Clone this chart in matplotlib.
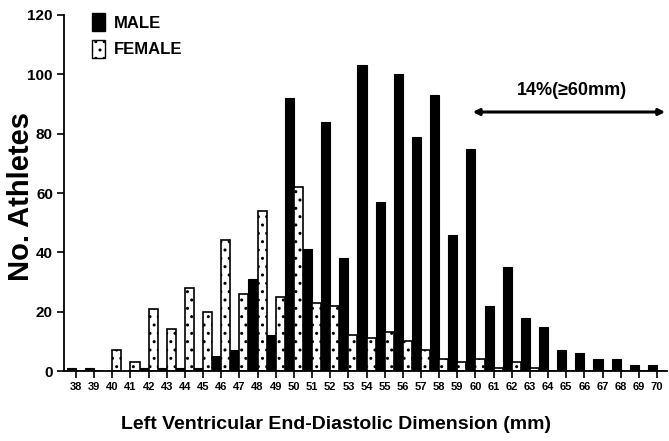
import matplotlib
matplotlib.use("Agg")
import matplotlib.pyplot as plt
from matplotlib.patches import Patch

plt.rcParams['font.family'] = ['Liberation Sans', 'DejaVu Sans']
plt.rcParams['font.weight'] = 'bold'
plt.rcParams['hatch.linewidth'] = 1.0

# LV end-diastolic dimension (mm) and number of athletes per bin
dimension_mm = list(range(38, 71))
male_counts = [1, 1, 0, 0, 1, 1, 1, 1, 5, 7, 31, 12, 92, 41, 84, 38, 103,
               57, 100, 79, 93, 46, 75, 22, 35, 18, 15, 7, 6, 4, 4, 2, 2]
female_counts = [0, 0, 7, 3, 21, 14, 28, 20, 44, 26, 54, 25, 62, 23, 22, 12,
                 11, 13, 10, 7, 4, 3, 4, 1, 3, 1, 0, 0, 0, 0, 0, 0, 0]
y_ticks = [0, 20, 40, 60, 80, 100, 120]
series_labels = ['MALE', 'FEMALE']
range_note = '14%(\u226560mm)'
range_start, range_end = 60, 70

fig = plt.figure(figsize=(6.69, 4.41), dpi=100)
ax = fig.add_axes([0.0957, 0.1587, 0.9013, 0.8073])

w = 0.5
ax.bar([d - w / 2 for d in dimension_mm], male_counts, width=w,
       color='black', edgecolor='black', linewidth=0.8)
ax.bar([d + w / 2 for d in dimension_mm], female_counts, width=w,
       color='white', edgecolor='black', linewidth=1.2, hatch='..')

ax.set_xlim(37.34, 70.55)
ax.set_ylim(0, 120)
ax.set_xticks(dimension_mm)
ax.set_xticklabels([str(d) for d in dimension_mm], fontsize=8,
                   fontweight='bold')
ax.set_yticks(y_ticks)
ax.set_yticklabels([str(v) for v in y_ticks], fontsize=11,
                   fontweight='bold')
ax.tick_params(axis='both', direction='out', length=5, width=1.2,
               color='black')
ax.tick_params(axis='x', pad=3)
ax.tick_params(axis='y', pad=3)

for side in ('top', 'right'):
    ax.spines[side].set_visible(False)
for side in ('left', 'bottom'):
    ax.spines[side].set_linewidth(1.3)

ax.set_ylabel('No. Athletes', fontsize=21, fontweight='bold')
ax.yaxis.set_label_coords(-0.048, 0.49)
ax.set_xlabel('Left Ventricular End-Diastolic Dimension (mm)', fontsize=14,
              fontweight='bold')
ax.xaxis.set_label_coords(0.451, -0.125)

handles = [Patch(facecolor='black', edgecolor='black'),
           Patch(facecolor='white', edgecolor='black', hatch='..')]
leg = ax.legend(handles, series_labels, loc='upper left',
                bbox_to_anchor=(0.047, 1.005), frameon=False,
                prop={'size': 12, 'weight': 'bold'},
                handlelength=0.75, handleheight=1.3, handletextpad=0.55,
                labelspacing=0.5, borderpad=0, borderaxespad=0)

ax.annotate('', xy=(range_end + 0.45, 87.3), xytext=(range_start - 0.15, 87.3),
            arrowprops=dict(arrowstyle='<|-|>', color='black', lw=2.2,
                            mutation_scale=9, shrinkA=0, shrinkB=0))
ax.text((range_start + range_end) / 2 + 0.3, 94.7, range_note, ha='center',
        va='center', fontsize=13, fontweight='bold')

fig.savefig('out.png', dpi=100)
